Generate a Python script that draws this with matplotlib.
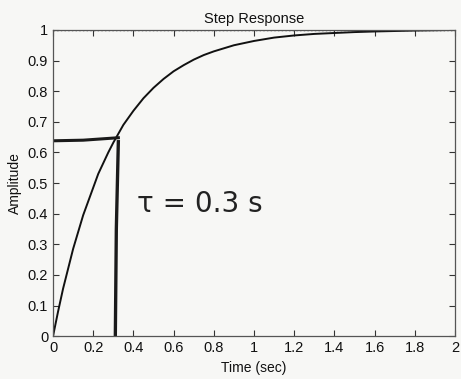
import matplotlib
matplotlib.use("Agg")
import matplotlib.pyplot as plt

plt.rcParams['font.family'] = ['Liberation Sans', 'DejaVu Sans']

# step response
time_s = [0, 0.025, 0.05, 0.075, 0.1, 0.125, 0.15, 0.175, 0.2, 0.225, 0.25, 0.275,
          0.3, 0.35, 0.4, 0.45, 0.5, 0.55, 0.6, 0.65, 0.7, 0.75, 0.8, 0.9,
          1.0, 1.1, 1.2, 1.3, 1.4, 1.5, 1.6, 1.8, 2.0]
amplitude = [0, 0.08, 0.155, 0.22, 0.285, 0.34, 0.395, 0.44, 0.485, 0.53, 0.565, 0.60,
             0.632, 0.69, 0.736, 0.777, 0.811, 0.84, 0.865, 0.885, 0.903, 0.918, 0.93, 0.95,
             0.964, 0.975, 0.982, 0.987, 0.99, 0.993, 0.995, 0.998, 1.0]

# hand-drawn construction lines (time constant)
mark_h_x = [0, 0.15, 0.325]
mark_h_y = [0.638, 0.64, 0.648]
mark_v_x = [0.31, 0.315, 0.325]
mark_v_y = [0, 0.35, 0.635]
tau_label = "τ = 0.3 s"

xticks = [0, 0.2, 0.4, 0.6, 0.8, 1, 1.2, 1.4, 1.6, 1.8, 2]
xticklabels = ['0', '0.2', '0.4', '0.6', '0.8', '1', '1.2', '1.4', '1.6', '1.8', '2']
yticks = [0, 0.1, 0.2, 0.3, 0.4, 0.5, 0.6, 0.7, 0.8, 0.9, 1]
yticklabels = ['0', '0.1', '0.2', '0.3', '0.4', '0.5', '0.6', '0.7', '0.8', '0.9', '1']

fig = plt.figure(figsize=(4.61, 3.79), dpi=100, facecolor='#f7f7f5')
ax = fig.add_axes([0.115, 0.113, 0.872, 0.808])
ax.set_facecolor('#f7f7f5')

ax.plot(time_s, amplitude, color='#111111', lw=1.4)
ax.axhline(1.0, color='#222222', lw=1.0, ls=':')
ax.plot(mark_h_x, mark_h_y, color='#1a1a1a', lw=2.2)
ax.plot(mark_v_x, mark_v_y, color='#1a1a1a', lw=2.4)
ax.text(0.42, 0.43, tau_label, fontsize=20, color='#222222',
        family=['DejaVu Sans'], va='center', ha='left')

ax.set_xlim(0, 2)
ax.set_ylim(0, 1)
ax.set_xticks(xticks)
ax.set_xticklabels(xticklabels)
ax.set_yticks(yticks)
ax.set_yticklabels(yticklabels)
ax.tick_params(direction='in', top=True, right=True, length=4, width=0.8,
               colors='#333333', labelsize=10.5, labelcolor='#111111')
for sp in ax.spines.values():
    sp.set_color('#555555')
    sp.set_linewidth(0.9)

ax.set_title('Step Response', fontsize=10.5, color='#111111', pad=5)
ax.set_xlabel('Time (sec)', fontsize=10, color='#111111', labelpad=4)
ax.set_ylabel('Amplitude', fontsize=10, color='#111111', labelpad=4)

fig.savefig('out.png', dpi=100, facecolor=fig.get_facecolor())
